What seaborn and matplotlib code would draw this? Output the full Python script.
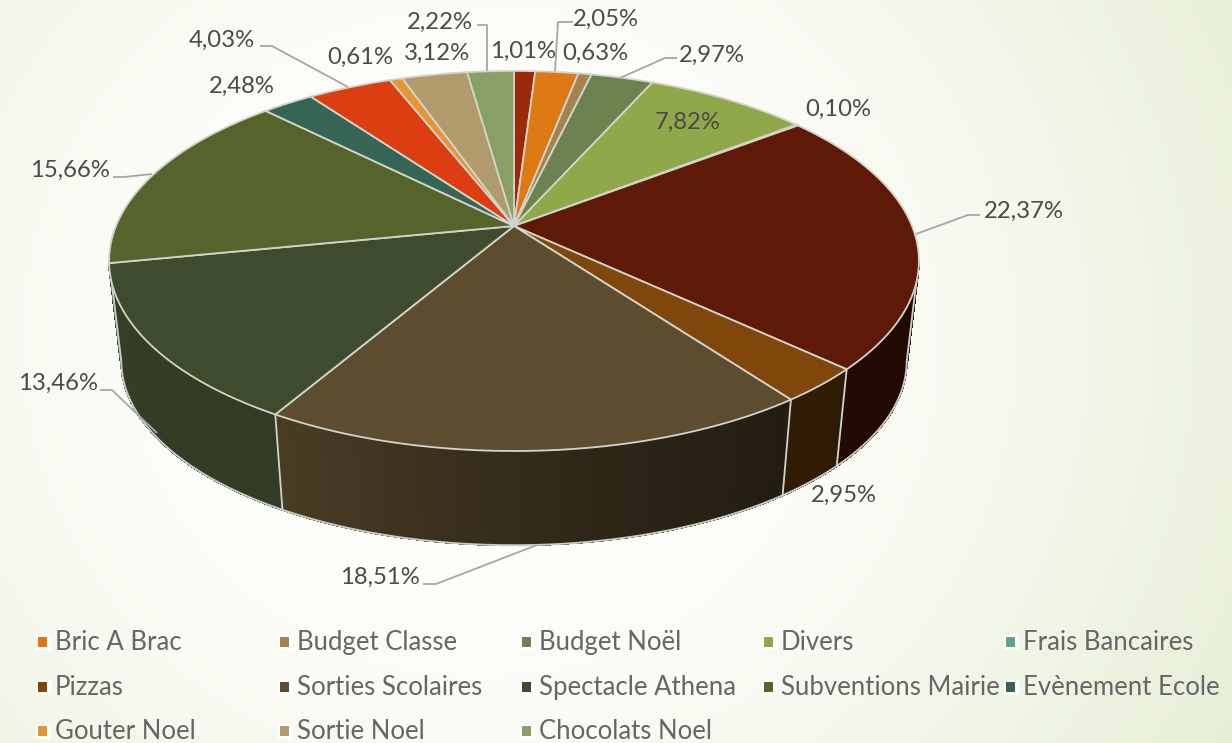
import numpy as np
import pandas as pd
import matplotlib
matplotlib.use("Agg")
import matplotlib.pyplot as plt
from matplotlib.collections import PolyCollection
import seaborn as sns

# ---------- data ----------
slice_names = ["", "Bric A Brac", "Budget Classe", "Budget Noël", "Divers", "Frais Bancaires",
               "", "Pizzas", "Sorties Scolaires", "Spectacle Athena", "Subventions Mairie",
               "Evènement Ecole", "", "Gouter Noel", "Sortie Noel", "Chocolats Noel"]
slice_values = [1.01, 2.05, 0.63, 2.97, 7.82, 0.10, 22.37, 2.95, 18.51, 13.46, 15.66,
                2.48, 4.03, 0.61, 3.12, 2.22]
slice_colors = ["#9C2A0A", "#DD7A14", "#A5834F", "#6C8350", "#90A84A", "#5FA58E", "#5E1A06",
                "#7F470C", "#5D4C2E", "#3F4B2D", "#56632A", "#346555", "#DC3E12", "#E69535",
                "#B19A6B", "#889F66"]

# ---------- layout / style ----------
W, H = 1232, 743
CX, CY = 514.0, 226.0
K, A, B = 0.184, 183.6, 398.0
BOTTOM_Y, BOTTOM_S = 327.0, 0.97
EDGE = "#D2D4CC"
LABEL_FONT = ["Lato", "DejaVu Sans"]

label_pos = {
    0: (523, 51), 1: (606, 19), 2: (595, 53), 3: (437, 53), 4: (688, 122), 5: (838, 109),
    6: (1024, 211), 7: (844, 495), 8: (380, 577), 9: (58, 383), 10: (70, 170),
    11: (242, 86), 12: (222, 40), 13: (360, 57), 14: (437, 53), 15: (440, 22),
}
label_pos[3] = (712, 55)
leaders = [
    [(477, 25), (487, 25), (487, 71)],
    [(573, 22), (558, 22), (555, 71)],
    [(260, 46), (272, 46), (348, 87)],
    [(677, 58), (665, 58), (620, 78)],
    [(980, 215), (968, 215), (916, 234)],
    [(113, 177), (124, 177), (152, 174)],
    [(100, 390), (112, 390), (157, 433)],
    [(423, 584), (436, 584), (537, 545)],
]
legend_cols = [42.5, 284.5, 526.5, 768.5, 1010.5]
legend_rows = [642, 687, 731]


def top_xy(theta):
    x_u, y_u = np.sin(theta), np.cos(theta)
    d = 1 + K * y_u
    return CX + B * x_u / d, CY - A * y_u / d


def bottom_xy(theta):
    x, y = top_xy(theta)
    return CX + BOTTOM_S * (x - CX), BOTTOM_Y + BOTTOM_S * (y - CY)


def shade(color, x):
    f = np.interp(x, [110, 280, 530, 780, 920], [0.82, 0.79, 0.55, 0.38, 0.36])
    return tuple(c * f for c in matplotlib.colors.to_rgb(color))


sns.set_theme(style="white")
plt.rcParams["font.family"] = LABEL_FONT

fig = plt.figure(figsize=(W / 100, H / 100), dpi=100)
ax = fig.add_axes([0, 0, 1, 1])
ax.set_xlim(0, W)
ax.set_ylim(H, 0)
ax.set_axis_off()

# background radial gradient
yy, xx = np.mgrid[0:H:2, 0:W:2]
dist = np.hypot(xx - 480, (yy - 340) * 1.05)
stops = [0, 300, 500, 880]
bg = np.dstack([
    np.interp(dist, stops, [254, 252, 247, 230]),
    np.interp(dist, stops, [254, 253, 249, 238]),
    np.interp(dist, stops, [252, 249, 240, 213]),
]) / 255
ax.imshow(bg, extent=(0, W, H, 0), aspect="auto", zorder=0, interpolation="bilinear")

# pie geometry from values
fractions = np.array(slice_values) / sum(slice_values)
edges = np.concatenate([[0], np.cumsum(fractions)]) * 2 * np.pi

# side wall: only the part between the two tangent angles faces the viewer
t_right = np.arccos(-K)
t_left = 2 * np.pi - t_right
polys, cols = [], []
for i, color in enumerate(slice_colors):
    lo, hi = max(edges[i], t_right), min(edges[i + 1], t_left)
    if hi <= lo:
        continue
    n = max(2, int((hi - lo) / np.radians(1)) + 1)
    th = np.linspace(lo, hi, n)
    xt, yt = top_xy(th)
    xb, yb = bottom_xy(th)
    for j in range(n - 1):
        polys.append([(xt[j], yt[j]), (xt[j + 1], yt[j + 1]), (xb[j + 1], yb[j + 1]), (xb[j], yb[j])])
        cols.append(shade(color, (xt[j] + xt[j + 1]) / 2))
ax.add_collection(PolyCollection(polys, facecolors=cols, edgecolors=cols, linewidths=0.8,
                                 antialiaseds=False, zorder=1))

# outer rim of wall, closed up to the top ellipse at both tangents
th_all = np.linspace(t_right, t_left, 300)
xb, yb = bottom_xy(th_all)
xr, yr = top_xy(t_right)
xl, yl = top_xy(t_left)
ax.plot(np.r_[xr, xb, xl], np.r_[yr, yb, yl], color="#C9CBC5", lw=1.4, zorder=1.5)

# separators on the wall
for e in edges:
    if np.cos(e) < -0.3:
        xt, yt = top_xy(e)
        xb, yb = bottom_xy(e)
        ax.plot([xt, xb], [yt, yb], color=EDGE, lw=1.3, zorder=2)

# top faces
for i, color in enumerate(slice_colors):
    n = max(2, int((edges[i + 1] - edges[i]) / np.radians(0.5)) + 1)
    th = np.linspace(edges[i], edges[i + 1], n)
    xt, yt = top_xy(th)
    ax.fill(np.r_[CX, xt], np.r_[CY, yt], facecolor=color, edgecolor=EDGE, lw=1.3,
            joinstyle="round", zorder=3)

# leader lines
for pts in leaders:
    xs, ys = zip(*pts)
    ax.plot(xs, ys, color="#A6A6A6", lw=1.3, zorder=4, solid_capstyle="butt")

# data labels
for i, v in enumerate(slice_values):
    px, py = label_pos[i]
    ax.text(px, py, f"{v:.2f}%".replace(".", ","), ha="center", va="center",
            fontsize=17.2, color="#4A4A4A", zorder=5)

# legend
names = [n for n in slice_names if n]
leg_colors = [c for n, c in zip(slice_names, slice_colors) if n]
n_cols = len(legend_cols)
leg = pd.DataFrame({
    "name": names,
    "x": [legend_cols[k % n_cols] for k in range(len(names))],
    "y": [legend_rows[k // n_cols] for k in range(len(names))],
})
ax.scatter(leg["x"], leg["y"], marker="s", s=70, color="white", edgecolors="white",
           linewidths=2.2, zorder=4)
sns.scatterplot(data=leg, x="x", y="y", hue="name", palette=dict(zip(names, leg_colors)),
                marker="s", s=42, linewidth=0, legend=False, ax=ax, zorder=5)
ax.set_xlim(0, W)
ax.set_ylim(H, 0)
ax.set_xlabel("")
ax.set_ylabel("")
for _, r in leg.iterrows():
    ax.text(r["x"] + 12.5, r["y"] + 0.5, r["name"], ha="left", va="center", fontsize=18.5,
            color="#666666", zorder=5)

fig.savefig("out.png", dpi=100)
